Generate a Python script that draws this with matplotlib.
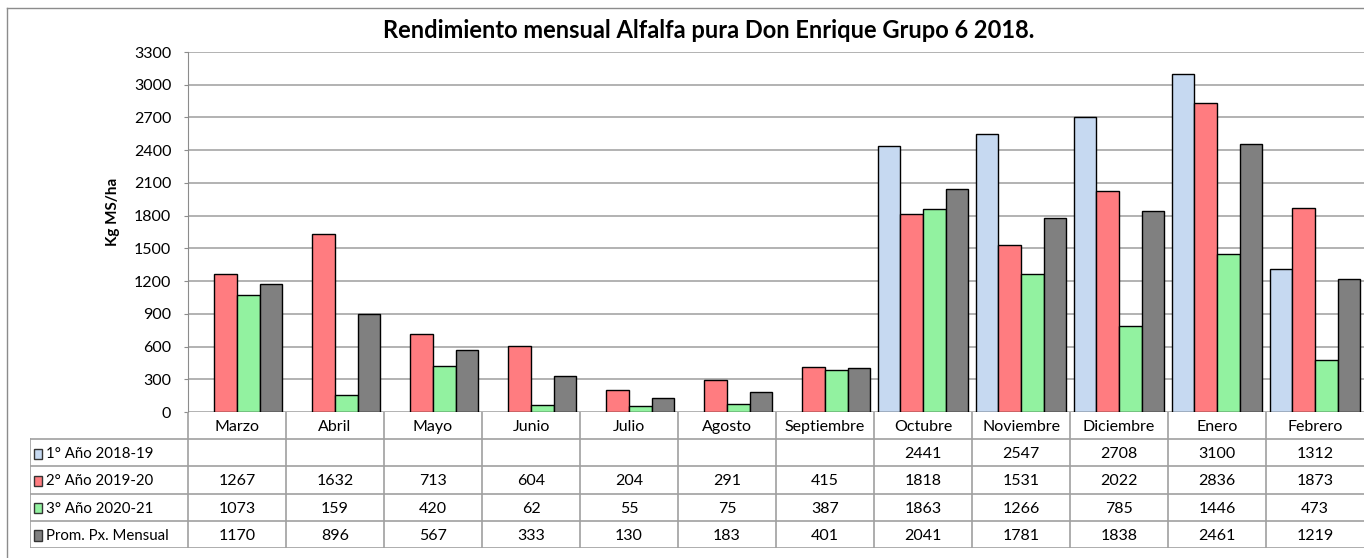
import numpy as np
import matplotlib.pyplot as plt
from matplotlib.patches import Rectangle
from matplotlib.lines import Line2D

plt.rcParams['font.family'] = ['Lato', 'DejaVu Sans']

meses = ['Marzo', 'Abril', 'Mayo', 'Junio', 'Julio', 'Agosto', 'Septiembre',
         'Octubre', 'Noviembre', 'Diciembre', 'Enero', 'Febrero']
series = ['1° Año 2018-19', '2° Año 2019-20', '3° Año 2020-21', 'Prom. Px. Mensual']
anio1 = [None, None, None, None, None, None, None, 2441, 2547, 2708, 3100, 1312]
anio2 = [1267, 1632, 713, 604, 204, 291, 415, 1818, 1531, 2022, 2836, 1873]
anio3 = [1073, 159, 420, 62, 55, 75, 387, 1863, 1266, 785, 1446, 473]
prom = [1170, 896, 567, 333, 130, 183, 401, 2041, 1781, 1838, 2461, 1219]
colores = ['#C6D9F1', '#FF7C80', '#92F2A0', '#808080']

W, H = 1364, 558
fig = plt.figure(figsize=(W / 100, H / 100), dpi=100)

# outer chart frame (cut off on the right and bottom)
fig.add_artist(Line2D([7 / W, 7 / W], [0, 1 - 8 / H], color='#8C8C8C', lw=1))
fig.add_artist(Line2D([7 / W, 1], [1 - 8 / H, 1 - 8 / H], color='#8C8C8C', lw=1))

ax = fig.add_axes([188 / W, 1 - 412 / H, 1176 / W, 360 / H])
x = np.arange(len(meses))
bw = 0.232
datos = [anio1, anio2, anio3, prom]
for i, (serie, col) in enumerate(zip(datos, colores)):
    vals = np.array([np.nan if v is None else v for v in serie], dtype=float)
    ax.bar(x + (i - 1.5) * bw, vals, bw, color=col, edgecolor='black', lw=1, zorder=3)

ax.set_xlim(-0.5, len(meses) - 0.5)
ax.set_ylim(0, 3300)
ax.set_yticks(np.arange(0, 3301, 300))
ax.set_xticks([])
ax.grid(axis='y', color='#A6A6A6', lw=1.2, zorder=0)
for s in ['top', 'right', 'bottom']:
    ax.spines[s].set_visible(False)
ax.spines['left'].set_color('#8C8C8C')
ax.tick_params(axis='y', length=3, color='#8C8C8C', pad=9, labelsize=11.5)

fig.text(113 / W, 1 - 212 / H, 'Kg MS/ha', rotation=90, ha='center', va='center',
         fontsize=11, fontweight='bold')
fig.text(709 / W, 1 - 30 / H, 'Rendimiento mensual Alfalfa pura Don Enrique Grupo 6 2018.',
         ha='center', va='center', fontsize=17, fontweight='bold')

# data table below the chart
left_cats = (188 - 30) / 98
tax = fig.add_axes([30 / W, 1 - 548 / H, (W - 30) / W, 136 / H])
tax.set_xlim(-0.5 - left_cats, len(meses) - 0.5)
tax.set_ylim(5, 0)
tax.axis('off')
lc = '#A0A0A0'
xl = -0.5 - left_cats
for r in range(1, 6):
    tax.add_line(Line2D([xl, len(meses)], [r, r], color=lc, lw=1.2))
tax.add_line(Line2D([xl, xl], [1, 5], color=lc, lw=1.2))
for k in range(len(meses)):
    tax.add_line(Line2D([k - 0.5, k - 0.5], [0, 5], color=lc, lw=1.2))

for k, m in enumerate(meses):
    tax.text(k, 0.55, m, ha='center', va='center', fontsize=11.5)
    for r, serie in enumerate(datos):
        if serie[k] is not None:
            tax.text(k, r + 1.55, str(serie[k]), ha='center', va='center', fontsize=11.5)

for r, (nombre, col) in enumerate(zip(series, colores)):
    tax.add_patch(Rectangle((xl + 0.04, r + 1.35), 0.085, 0.38, fc=col, ec='#333333', lw=1))
    tax.text(xl + 0.16, r + 1.55, nombre, ha='left', va='center', fontsize=10.8)

fig.savefig('out.png', dpi=100)
